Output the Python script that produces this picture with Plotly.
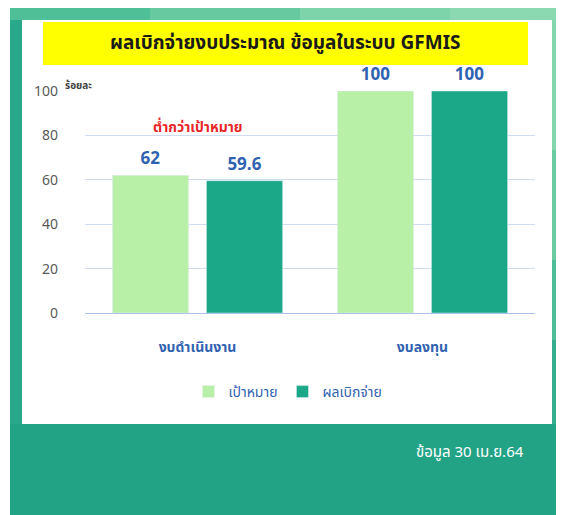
import plotly.graph_objects as go

categories = ["งบดำเนินงาน", "งบลงทุน"]
target = [62, 100]
actual = [59.6, 100]
series_names = ["เป้าหมาย", "ผลเบิกจ่าย"]
y_ticks = [0, 20, 40, 60, 80, 100]

W, H = 564, 515
OFF = 8  # page body margin
L, R, T, B = 77, 37, 83, 210
PW, PH = W - L - R, H - T - B

def px(x):
    return (x - OFF - L) / PW

def py(y):
    return (H - B - (y - OFF)) / PH

FONT = "Tahoma, 'Noto Sans Thai', 'Noto Sans', 'DejaVu Sans', sans-serif"
BLUE = "#2f62b0"
LIGHT = "#b7f0a6"
DARK = "#1aa889"

fig = go.Figure()
fig.add_trace(go.Bar(x=categories, y=target, name=series_names[0], marker_color=LIGHT,
                     text=[f"<b>{v:g}</b>" for v in target], textposition="outside",
                     textfont=dict(color=BLUE, size=17, family=FONT), cliponaxis=False))
fig.add_trace(go.Bar(x=categories, y=actual, name=series_names[1], marker_color=DARK,
                     text=[f"<b>{v:g}</b>" for v in actual], textposition="outside",
                     textfont=dict(color=BLUE, size=17, family=FONT), cliponaxis=False))

def rect(x0, x1, y0, y1, color):
    return dict(type="rect", xref="paper", yref="paper", x0=px(x0), x1=px(x1),
                y0=py(y1), y1=py(y0), fillcolor=color, line_width=0, layer="below")

shapes = [
    # green background
    rect(10, 580, 8, 530, "#22a386"),
    rect(10, 150, 8, 20, "#4fbf97"),
    rect(150, 300, 8, 20, "#66c9a0"),
    rect(300, 450, 8, 20, "#7dd4aa"),
    rect(450, 580, 8, 20, "#8ad9b0"),
    rect(552, 580, 20, 150, "#85d6ad"),
    rect(552, 580, 150, 260, "#6ccaa2"),
    rect(552, 580, 260, 340, "#4fbd97"),
    rect(552, 580, 340, 424, "#34ae8d"),
    rect(10, 22, 20, 424, "#2aa98a"),
    # white panel
    rect(22, 552, 20, 424, "white"),
    # yellow title box
    rect(43, 528, 22, 65, "#ffff00"),
]

annotations = [
    dict(text="<b>ผลเบิกจ่ายงบประมาณ ข้อมูลในระบบ GFMIS</b>", xref="paper", yref="paper",
         x=px(285), y=py(44), xanchor="center", yanchor="middle", showarrow=False,
         font=dict(size=19, color="#1a1a1a", family=FONT)),
    dict(text="<b>ร้อยละ</b>", xref="paper", yref="paper", x=px(63), y=py(86),
         xanchor="left", yanchor="middle", showarrow=False,
         font=dict(size=10, color="#404040", family=FONT)),
    dict(text="<b>ต่ำกว่าเป้าหมาย</b>", xref="paper", yref="paper", x=px(197), y=py(127),
         xanchor="center", yanchor="middle", showarrow=False,
         font=dict(size=14, color="#e8262a", family=FONT)),
    dict(text="ข้อมูล 30 เม.ย.64", xref="paper", yref="paper", x=px(526), y=py(452),
         xanchor="right", yanchor="middle", showarrow=False,
         font=dict(size=15, color="white", family=FONT)),
]

fig.update_layout(
    width=W, height=H,
    margin=dict(l=L, r=R, t=T, b=B, pad=0),
    paper_bgcolor="white", plot_bgcolor="rgba(0,0,0,0)",
    barmode="group", bargap=0.164, bargroupgap=0.19,
    font=dict(family=FONT),
    shapes=shapes, annotations=annotations,
    showlegend=True,
    legend=dict(orientation="h", x=px(288), xanchor="center", y=py(392), yanchor="middle",
                font=dict(size=14, color=BLUE, family=FONT), bgcolor="rgba(0,0,0,0)",
                itemwidth=30, traceorder="normal"),
    xaxis=dict(showgrid=False, showline=False, zeroline=False, ticks="",
               tickfont=dict(size=14, color=BLUE, family=FONT), ticklabelstandoff=24,
               tickvals=categories, ticktext=[f"<b>{c}</b>" for c in categories]),
    yaxis=dict(range=[0, 100], tickvals=y_ticks, showgrid=True, gridcolor="#cddcf0",
               zeroline=True, zerolinecolor="#a9c4e8", zerolinewidth=1, showline=False,
               tickfont=dict(size=14, color="#595959", family=FONT), ticklabelstandoff=26),
)

fig.write_html("out.html")
